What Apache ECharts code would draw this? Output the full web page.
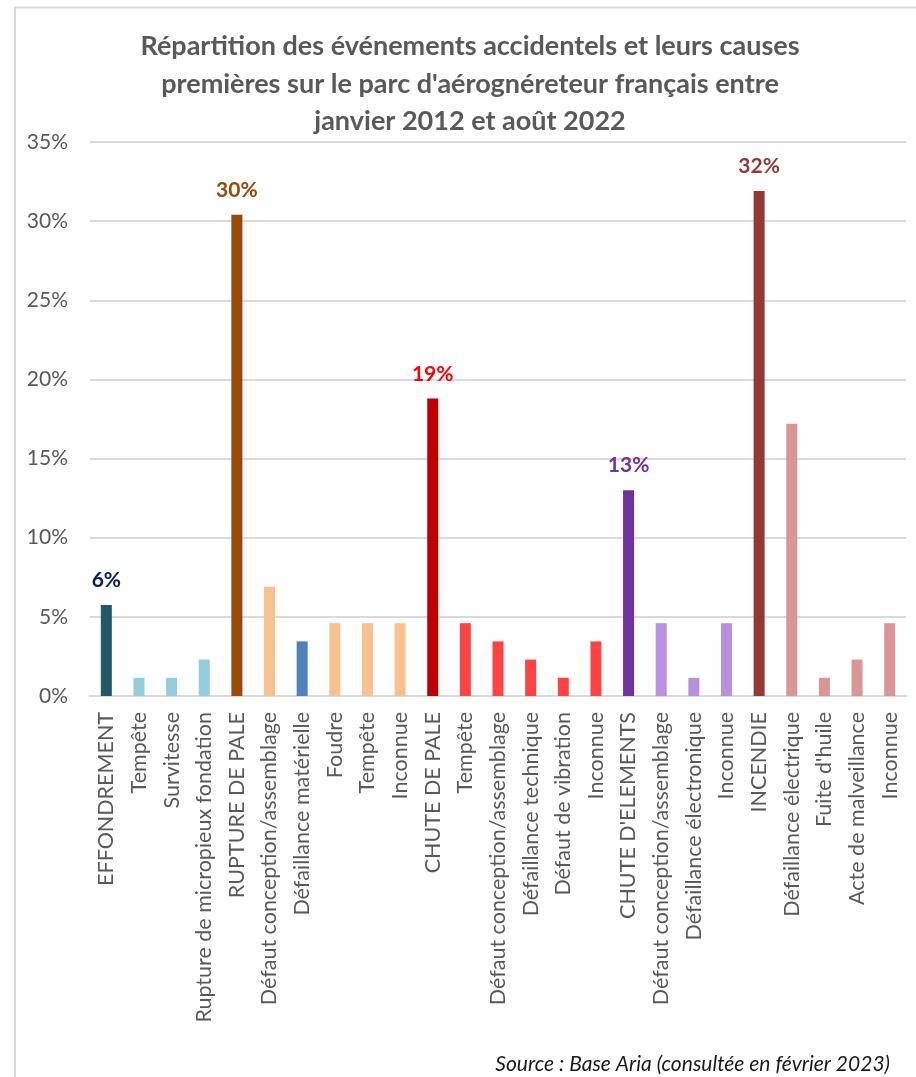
<!DOCTYPE html>
<html>
<head>
<meta charset="utf-8">
<script src="https://cdn.jsdelivr.net/npm/echarts@6/dist/echarts.min.js"></script>
<style>
  html, body { margin: 0; padding: 0; background: #ffffff; }
  #chart { width: 916px; height: 1077px; }
</style>
</head>
<body>
<div id="chart"></div>
<script>
const titleText = "Répartition des événements accidentels et leurs causes\npremières sur le parc d'aérognéreteur français entre\njanvier 2012 et août 2022";
const sourceText = "Source : Base Aria (consultée en février 2023)";

const categories = [
  "EFFONDREMENT", "Tempête", "Survitesse", "Rupture de micropieux fondation",
  "RUPTURE DE PALE", "Défaut conception/assemblage", "Défaillance matérielle", "Foudre", "Tempête", "Inconnue",
  "CHUTE DE PALE", "Tempête", "Défaut conception/assemblage", "Défaillance technique", "Défaut de vibration", "Inconnue",
  "CHUTE D'ELEMENTS", "Défaut conception/assemblage", "Défaillance électronique", "Inconnue",
  "INCENDIE", "Défaillance électrique", "Fuite d'huile", "Acte de malveillance", "Inconnue"
];

const values = [
  5.75, 1.15, 1.15, 2.3,
  30.4, 6.9, 3.45, 4.6, 4.6, 4.6,
  18.8, 4.6, 3.45, 2.3, 1.15, 3.45,
  13.0, 4.6, 1.15, 4.6,
  31.9, 17.2, 1.15, 2.3, 4.6
];

const dataLabels = [
  "6%", "", "", "",
  "30%", "", "", "", "", "",
  "19%", "", "", "", "", "",
  "13%", "", "", "",
  "32%", "", "", "", ""
];

const yTicks = ["0%", "5%", "10%", "15%", "20%", "25%", "30%", "35%"];

// styling (not data)
const barColors = [
  "#215968", "#92cddc", "#92cddc", "#92cddc",
  "#984807", "#fac090", "#4f81bd", "#fac090", "#fac090", "#fac090",
  "#c00000", "#ff4343", "#ff4343", "#ff4343", "#ff4343", "#ff4343",
  "#7030a0", "#b990dd", "#b990dd", "#b990dd",
  "#953735", "#d99694", "#d99694", "#d99694", "#d99694"
];
const labelColors = {
  "6%": "#002060", "30%": "#984807", "19%": "#ff0000", "13%": "#7030a0", "32%": "#953735"
};

const FONT = "Lato";
const chart = echarts.init(document.getElementById('chart'), null, { renderer: 'canvas' });

const seriesData = values.map((v, i) => ({
  value: v,
  itemStyle: { color: barColors[i] },
  label: dataLabels[i] ? {
    show: true,
    position: 'top',
    distance: 14,
    formatter: dataLabels[i],
    color: labelColors[dataLabels[i]],
    fontFamily: FONT,
    fontWeight: 'bold',
    fontSize: 21
  } : { show: false }
}));

chart.setOption({
  animation: false,
  backgroundColor: '#ffffff',
  graphic: [
    {
      type: 'rect',
      shape: { x: 15, y: 7.5, width: 920, height: 1100 },
      style: { fill: 'none', stroke: '#d9d9d9', lineWidth: 2 },
      silent: true
    },
    {
      type: 'text',
      x: 470,
      y: 28,
      style: {
        text: titleText,
        textAlign: 'center',
        textVerticalAlign: 'top',
        fill: '#595959',
        font: "bold 27px " + FONT,
        lineHeight: 37.5
      }
    },
    {
      type: 'text',
      right: 26,
      top: 1054,
      style: {
        text: sourceText,
        fill: '#1a1a1a',
        font: "italic 21px " + FONT
      }
    }
  ],
  grid: { left: 90, right: 10, top: 142, bottom: 381, containLabel: false },
  xAxis: {
    type: 'category',
    data: categories,
    axisLine: { show: true, lineStyle: { color: '#d9d9d9', width: 2 } },
    axisTick: { show: false },
    axisLabel: {
      interval: 0,
      rotate: 90,
      margin: 16,
      color: '#595959',
      fontFamily: FONT,
      fontSize: 21.5
    }
  },
  yAxis: {
    type: 'value',
    min: 0,
    max: 35,
    interval: 5,
    axisLine: { show: false },
    axisTick: { show: false },
    splitLine: { lineStyle: { color: '#d9d9d9', width: 2 } },
    axisLabel: {
      margin: 22,
      color: '#595959',
      fontFamily: FONT,
      fontSize: 21,
      formatter: (v) => yTicks[Math.round(v / 5)]
    }
  },
  series: [{
    type: 'bar',
    data: seriesData,
    barWidth: 11
  }]
});
</script>
</body>
</html>
